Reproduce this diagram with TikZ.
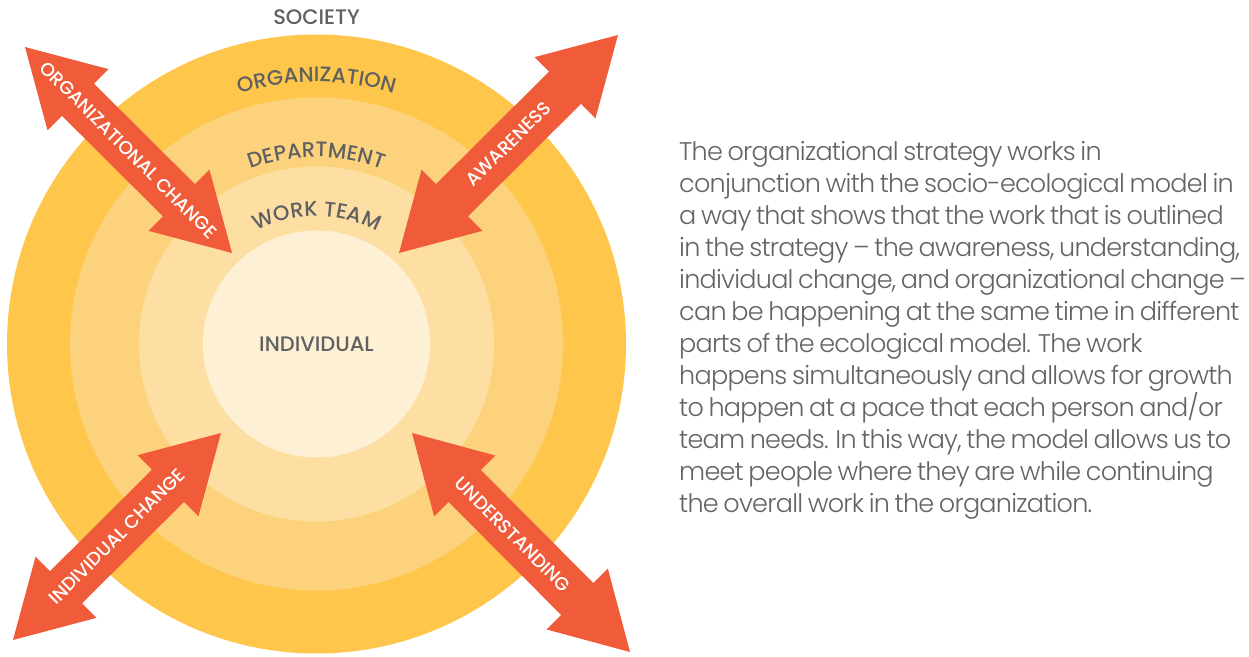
\documentclass[tikz,border=0pt]{standalone}
\usepackage{fontspec}
\setmainfont{Poppins}
\newfontfamily\lblfont{Poppins Medium}
\newfontfamily\bodyfont{Poppins Light}[LetterSpace=-3,WordSpace=0.75]
\usetikzlibrary{shapes.arrows}
\usetikzlibrary{decorations.text}
\usetikzlibrary{calc}
\definecolor{ringOrg}{HTML}{FEC64A}
\definecolor{ringDept}{HTML}{FDD27C}
\definecolor{ringTeam}{HTML}{FEDFA3}
\definecolor{ringIndiv}{HTML}{FEF0D4}
\definecolor{arrowred}{HTML}{F05B39}
\definecolor{labelgray}{HTML}{5F6062}
\definecolor{bodygray}{HTML}{636466}
\tikzstyle{ring}=[circle,inner sep=0pt]
\tikzstyle{levellabel}=[text=labelgray,font=\lblfont\fontsize{21}{21}\selectfont,inner sep=0pt]
\tikzstyle{bigarrow}=[
  double arrow,
  fill=arrowred,
  inner xsep=0pt,
  inner ysep=22.5pt,
  double arrow tip angle=60,
  double arrow head extend=20.5pt,
  minimum width=86pt
]
\tikzstyle{arrowtext}=[text=white,font=\lblfont\fontsize{18.5}{18.5}\selectfont,inner sep=0pt]
\tikzstyle{bodytext}=[
  text=bodygray,
  font=\bodyfont\fontsize{25.5}{32}\selectfont,
  align=left,
  inner sep=0pt
]

\begin{document}
\begin{tikzpicture}[x=1pt,y=1pt]
    \useasboundingbox (0,0) rectangle (1249,656);

    % the four levels, drawn from the outside in
    \node[ring,fill=ringOrg,minimum size=619pt] (org) at (316.5,312) {};
    \node[ring,fill=ringDept,minimum size=493pt] (dept) at (org) {};
    \node[ring,fill=ringTeam,minimum size=355pt] (team) at (org) {};
    \node[ring,fill=ringIndiv,minimum size=227pt] (indiv) at (org) {};

    \node[levellabel] (societylbl) at (316.5,639) {SOCIETY};
    \node[levellabel] (indivlbl) at (indiv) {INDIVIDUAL};

    % curved labels sit on arcs round the centre
    \foreach \r/\txt in {262/ORGANIZATION,187/DEPARTMENT,128/WORK TEAM}{
      \path[decorate,decoration={text along path,text align=center,
          text={|\lblfont\fontsize{21}{21}\selectfont\color{labelgray}|\txt}}]
        ($(org.center)+(180:\r)$) arc[start angle=180,end angle=0,radius=\r];
    }

    % end points of the arrows
    \coordinate (ocOut) at (25,609);   \coordinate (ocIn) at (232,403);
    \coordinate (awOut) at (618,621);  \coordinate (awIn) at (399,403);
    \coordinate (icOut) at (13,16);    \coordinate (icIn) at (221,223);
    \coordinate (unOut) at (630,4);    \coordinate (unIn) at (412,223);

    \foreach \a/\b/\nm in {ocOut/ocIn/orgchange,awIn/awOut/awareness,
                           icOut/icIn/indivchange,unIn/unOut/understanding}{
      \path let \p1=($(\b)-(\a)$) in
        node[bigarrow,minimum height={veclen(\x1,\y1)},rotate={atan2(\y1,\x1)}]
        (\nm) at ($(\a)!.5!(\b)$) {};
    }

    \node[arrowtext,rotate=-45] (orgchangetxt) at (orgchange) {ORGANIZATIONAL CHANGE};
    \node[arrowtext,rotate=45] (awarenesstxt) at (awareness) {AWARENESS};
    \node[arrowtext,rotate=45] (indivchangetxt) at (indivchange) {INDIVIDUAL CHANGE};
    \node[arrowtext,rotate=-45] (understandingtxt) at ($(understanding)+(-8,8)$) {UNDERSTANDING};

    \node[bodytext,anchor=north west] (blurb) at (679,515) {%
      The organizational strategy works in\\
      conjunction with the socio-ecological model in\\
      a way that shows that the work that is outlined\\
      in the strategy – the awareness, understanding,\\
      individual change, and organizational change –\\
      can be happening at the same time in different\\
      parts of the ecological model. The work\\
      happens simultaneously and allows for growth\\
      to happen at a pace that each person and/or\\
      team needs. In this way, the model allows us to\\
      meet people where they are while continuing\\
      the overall work in the organization.};
\end{tikzpicture}
\end{document}
